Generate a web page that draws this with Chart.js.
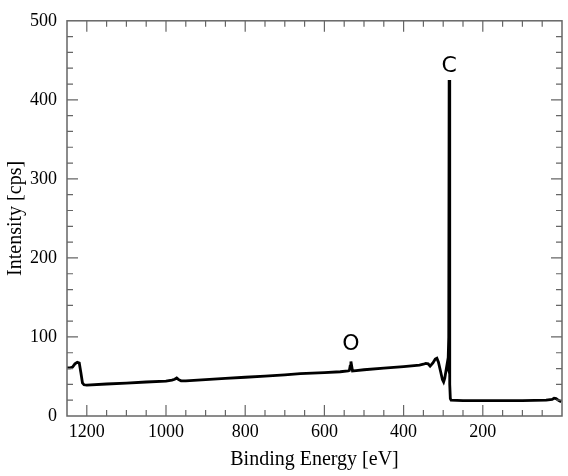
<!DOCTYPE html>
<html>
<head>
<meta charset="utf-8">
<script src="https://cdn.jsdelivr.net/npm/chart.js@4"></script>
<style>
  html, body { margin: 0; padding: 0; background: #fff; }
  #wrap { width: 568px; height: 476px; }
</style>
</head>
<body>
<div id="wrap"><canvas id="myChart" width="568" height="476"></canvas></div>
<script>
// binding energy [eV] and intensity [cps]
const energy = [
  1250, 1242, 1236, 1230, 1224, 1219, 1215, 1211, 1207, 1200,
  1150, 1100, 1050, 1000, 985, 978, 973, 968, 962, 950,
  900, 850, 800, 750, 700, 661, 600, 560, 540, 537,
  535, 533, 531, 529, 520, 500, 450, 400, 360, 350,
  344, 338, 333, 326, 320, 316, 312, 306, 302, 299,
  296, 292, 290, 288, 286, 285, 284, 283, 282, 280,
  250, 200, 100, 40, 25, 20, 15, 8, 2
]
const intensity = [
  61, 61, 62, 66, 68, 67, 55, 42, 39.5, 39,
  40.5, 41.5, 43, 44, 45.5, 46.5, 48, 46, 44.5, 44.5,
  46, 47.5, 49, 50.5, 52, 53.5, 55, 56, 57, 57.5,
  63, 69, 63, 57, 57.5, 58.5, 60.5, 62.5, 64.5, 65.5,
  66.5, 66, 63, 67, 72, 73, 68, 55, 46, 43,
  48, 60, 66, 62, 100, 425, 200, 40, 22, 20,
  19.5, 19.5, 19.5, 20, 21, 22.5, 22, 19.5, 18
]
const xTicks = [200, 400, 600, 800, 1000, 1200]
const yTicks = [0, 100, 200, 300, 400, 500]
const peakLabels = ['C', 'O']
const peakEnergy = [285, 533]
const peakLabelY = [442, 91]

const axisColor = '#666'

// ticks drawn inside the frame, on all four sides, plus peak labels
const framePlugin = {
  id: 'frame',
  afterDraw(chart) {
    const c = chart.ctx
    const a = chart.chartArea
    const xs = chart.scales.x
    const ys = chart.scales.y
    c.save()
    c.strokeStyle = axisColor
    c.lineWidth = 1.5
    c.strokeRect(a.left, a.top, a.right - a.left, a.bottom - a.top)
    c.lineWidth = 1.2
    for (let v = 0; v <= 1250; v += 50) {
      const px = xs.getPixelForValue(v)
      if (px < a.left + 1 || px > a.right - 1) continue
      const len = v % 200 === 0 ? 11 : 6
      c.beginPath()
      c.moveTo(px, a.bottom); c.lineTo(px, a.bottom - len)
      c.moveTo(px, a.top); c.lineTo(px, a.top + len)
      c.stroke()
    }
    for (let v = 20; v < 500; v += 20) {
      const py = ys.getPixelForValue(v)
      const len = v % 100 === 0 ? 11 : 6
      c.beginPath()
      c.moveTo(a.left, py); c.lineTo(a.left + len, py)
      c.moveTo(a.right, py); c.lineTo(a.right - len, py)
      c.stroke()
    }
    c.fillStyle = '#000'
    c.font = '22px "DejaVu Sans"'
    c.textAlign = 'center'
    c.textBaseline = 'middle'
    for (let i = 0; i < peakLabels.length; i++) {
      c.fillText(peakLabels[i], xs.getPixelForValue(peakEnergy[i]), ys.getPixelForValue(peakLabelY[i]))
    }
    c.restore()
  }
}

const ctx = document.getElementById('myChart')
const points = energy.map((e, i) => ({ x: e, y: intensity[i] }))

const config = {
  type: 'line',
  data: {
    datasets: [{
      data: points,
      borderColor: '#000',
      borderWidth: 2.8,
      pointRadius: 0,
      tension: 0,
      fill: false
    }]
  },
  options: {
    responsive: false,
    animation: false,
    layout: { padding: { top: 17, right: 6, left: 0, bottom: 0 } },
    plugins: { legend: { display: false }, tooltip: { enabled: false } },
    scales: {
      x: {
        type: 'linear',
        reverse: true,
        min: 0,
        max: 1250,
        afterBuildTicks(scale) { scale.ticks = xTicks.map(v => ({ value: v })) },
        afterFit(scale) { scale.height = 60 },
        grid: { display: false, drawTicks: false },
        border: { display: false },
        ticks: { color: '#000', padding: 5, callback: v => String(v), font: { family: '"Liberation Serif"', size: 18 } },
        title: { display: true, text: 'Binding Energy [eV]', color: '#000', padding: { top: 2 }, font: { family: '"Liberation Serif"', size: 20 } }
      },
      y: {
        min: 0,
        max: 500,
        afterBuildTicks(scale) { scale.ticks = yTicks.map(v => ({ value: v })) },
        afterFit(scale) { scale.width = 67 },
        grid: { display: false, drawTicks: false },
        border: { display: false },
        ticks: { color: '#000', padding: 10, callback: v => String(v), font: { family: '"Liberation Serif"', size: 18 } },
        title: { display: true, text: 'Intensity [cps]', color: '#000', padding: { bottom: 0 }, font: { family: '"Liberation Serif"', size: 20 } }
      }
    }
  },
  plugins: [framePlugin]
}

const chart = new Chart(ctx, config)
</script>
</body>
</html>
